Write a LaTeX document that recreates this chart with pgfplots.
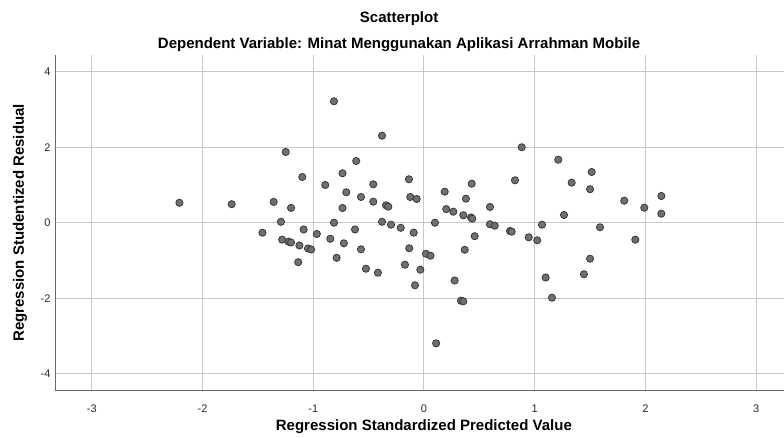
\documentclass[border=0pt]{standalone}
\usepackage{pgfplots}
\pgfplotsset{compat=1.18}
\usepackage{fontspec}
\setmainfont{Liberation Sans}
\definecolor{gridc}{RGB}{200,200,200}
\definecolor{axc}{RGB}{105,105,105}
\definecolor{markf}{RGB}{112,112,112}
\definecolor{markd}{RGB}{55,55,55}
\definecolor{txt}{RGB}{40,40,40}
\begin{document}
\begin{tikzpicture}
\path[use as bounding box] (0,0) rectangle (784pt,438pt);
\begin{axis}[
  at={(55pt,47.3pt)}, anchor=south west,
  scale only axis, width=729pt, height=335.7pt,
  xmin=-3.333, xmax=3.252, ymin=-4.45, ymax=4.442,
  axis x line*=bottom, axis y line*=left,
  axis line style={axc, line width=0.9pt, -},
  xtick={-3,-2,-1,0,1,2,3}, ytick={-4,-2,0,2,4},
  major tick length=0pt,
  grid=major, major grid style={gridc, line width=1pt},
  /pgf/number format/assume math mode=true,
  tick label style={font=\fontsize{11}{13}\selectfont, text=txt},
  xticklabel style={yshift=-11pt},
  yticklabel style={xshift=-1pt},
  clip=false,
  xlabel={\textbf{Regression Standardized Predicted Value}},
  ylabel={\textbf{Regression Studentized Residual}},
  label style={font=\fontsize{15}{17}\selectfont, text=black},
  xlabel style={at={(rel axis cs:0.506,0)}, anchor=center, yshift=-36.3pt},
  ylabel style={at={(rel axis cs:0,0.5)}, anchor=center, yshift=35pt},
]
\addplot[only marks, mark=*, mark size=3.6pt,
  mark options={fill=markf, draw=markd, line width=0.8pt}]
table {
x y
-2.209 0.527
-1.737 0.490
-1.249 1.873
-1.099 1.211
-0.892 0.999
-0.736 1.309
-0.702 0.805
-1.358 0.551
-1.201 0.392
-0.736 0.389
-1.292 0.024
-0.813 0.000
-1.459 -0.265
-1.087 -0.180
-0.968 -0.299
-0.846 -0.426
-0.724 -0.546
-1.281 -0.450
-1.224 -0.503
-1.201 -0.525
-1.125 -0.604
-1.048 -0.683
-1.019 -0.710
-0.789 -0.930
-1.136 -1.046
-0.813 3.216
-0.379 2.305
-0.612 1.634
-0.458 1.017
-0.136 1.150
-0.569 0.681
-0.458 0.556
-0.343 0.461
-0.322 0.424
-0.124 0.681
-0.066 0.628
0.187 0.821
0.201 0.360
-0.379 0.024
-0.298 -0.053
-0.210 -0.135
0.099 0.000
-0.623 -0.180
-0.093 -0.265
-0.569 -0.705
-0.133 -0.678
0.018 -0.824
0.059 -0.874
-0.524 -1.219
-0.416 -1.325
-0.172 -1.113
-0.033 -1.245
-0.081 -1.658
0.110 -3.195
0.883 1.997
1.213 1.669
1.515 1.343
0.822 1.123
1.334 1.060
1.500 0.887
0.431 1.033
0.379 0.636
0.265 0.291
0.355 0.196
0.425 0.138
0.436 0.106
0.596 0.416
1.265 0.204
0.596 -0.042
0.639 -0.079
0.777 -0.220
0.792 -0.238
1.066 -0.053
1.590 -0.122
0.458 -0.358
0.946 -0.387
1.023 -0.466
0.368 -0.718
1.500 -0.954
0.277 -1.531
1.099 -1.452
1.445 -1.367
0.334 -2.066
0.355 -2.082
1.156 -1.987
1.809 0.583
1.990 0.397
2.144 0.707
2.144 0.238
1.909 -0.450
};
\node[font=\bfseries\fontsize{15}{17}\selectfont, anchor=center] at (rel axis cs:0.472,1) [yshift=36pt] {Scatterplot};
\node[font=\bfseries\fontsize{15}{17}\selectfont, anchor=center] at (rel axis cs:0.472,1) [yshift=10pt] {Dependent Variable: Minat Menggunakan Aplikasi Arrahman Mobile};
\end{axis}
\end{tikzpicture}
\end{document}
